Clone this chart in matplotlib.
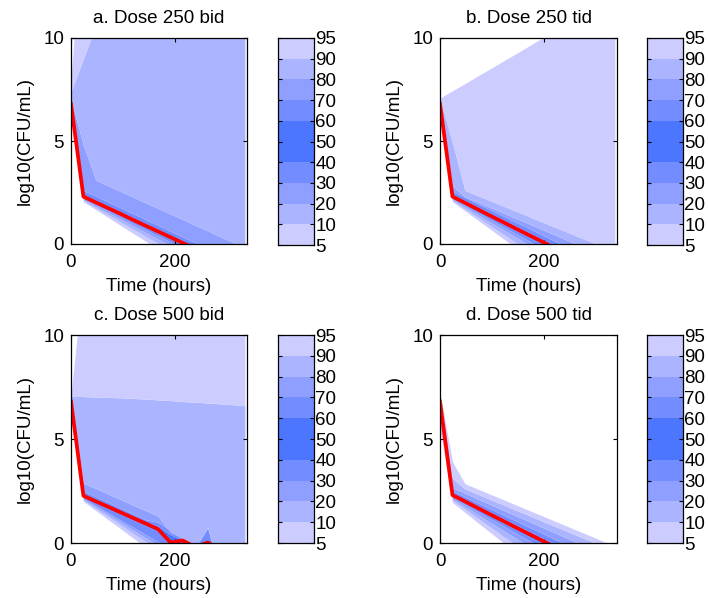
# percentile fan charts of log10(CFU/mL) vs time for four dose regimens
import numpy as np
import matplotlib
matplotlib.use('Agg')
import matplotlib.pyplot as plt

plt.rcParams['font.family'] = ['Liberation Sans', 'DejaVu Sans']
plt.rcParams['font.size'] = 13.5

# time grid (hours)
hours = [0, 24, 48, 72, 96, 120, 144, 168, 192, 216, 240, 264, 288, 312, 336]

# percentile levels shown in the colour key
levels = [5, 10, 20, 30, 40, 50, 60, 70, 80, 90, 95]

# rows: 5th,10th,20th,30th,40th,50th,60th,70th,80th,90th,95th percentile
dose250_bid = [
    [6.0, 2.05, 1.67, 1.29, 0.90, 0.52, 0.14, -0.24, -0.62, -1.0, -1.38, -1.76, -2.15, -2.53, -2.91],
    [6.2, 2.1, 1.75, 1.41, 1.06, 0.72, 0.37, 0.03, -0.32, -0.66, -1.01, -1.35, -1.7, -2.04, -2.39],
    [6.4, 2.15, 1.83, 1.51, 1.20, 0.88, 0.56, 0.24, -0.08, -0.40, -0.72, -1.04, -1.35, -1.67, -1.99],
    [6.55, 2.2, 1.9, 1.6, 1.3, 1.0, 0.7, 0.4, 0.1, -0.2, -0.5, -0.8, -1.1, -1.4, -1.7],
    [6.7, 2.25, 1.96, 1.67, 1.38, 1.10, 0.81, 0.52, 0.24, -0.05, -0.34, -0.62, -0.91, -1.20, -1.48],
    [6.8, 2.3, 2.02, 1.74, 1.46, 1.17, 0.89, 0.61, 0.33, 0.05, -0.23, -0.52, -0.80, -1.08, -1.36],
    [6.9, 2.4, 2.12, 1.84, 1.55, 1.27, 0.99, 0.71, 0.42, 0.14, -0.14, -0.42, -0.71, -0.99, -1.27],
    [6.95, 2.6, 2.32, 2.04, 1.76, 1.47, 1.19, 0.91, 0.62, 0.34, 0.06, -0.22, -0.51, -0.79, -1.07],
    [7.0, 4.8, 3.1, 2.83, 2.55, 2.28, 2.0, 1.73, 1.46, 1.19, 0.91, 0.64, 0.36, 0.09, -0.18],
    [7.4, 9.0, 10.6, 12, 13, 14, 15, 15, 15, 15, 15, 15, 15, 15, 15],
    [8.0, 16, 18, 20, 20, 20, 20, 20, 20, 20, 20, 20, 20, 20, 20],
]

dose250_tid = [
    [6.0, 2.05, 1.61, 1.17, 0.73, 0.29, -0.15, -0.59, -1.03, -1.47, -1.91, -2.35, -2.79, -3.23, -3.67],
    [6.2, 2.1, 1.7, 1.3, 0.9, 0.5, 0.1, -0.3, -0.7, -1.1, -1.5, -1.9, -2.3, -2.7, -3.1],
    [6.4, 2.15, 1.79, 1.43, 1.07, 0.72, 0.36, 0.0, -0.36, -0.72, -1.07, -1.43, -1.79, -2.15, -2.51],
    [6.55, 2.2, 1.87, 1.53, 1.20, 0.86, 0.53, 0.19, -0.14, -0.47, -0.81, -1.14, -1.48, -1.81, -2.14],
    [6.7, 2.25, 1.93, 1.62, 1.30, 0.99, 0.67, 0.35, 0.04, -0.28, -0.59, -0.91, -1.23, -1.54, -1.86],
    [6.8, 2.3, 2.0, 1.69, 1.38, 1.08, 0.77, 0.47, 0.17, -0.14, -0.44, -0.75, -1.05, -1.36, -1.66],
    [6.9, 2.4, 2.1, 1.8, 1.49, 1.19, 0.89, 0.59, 0.28, -0.02, -0.32, -0.62, -0.92, -1.23, -1.53],
    [6.95, 2.55, 2.26, 1.96, 1.67, 1.37, 1.08, 0.79, 0.49, 0.20, -0.10, -0.39, -0.69, -0.98, -1.27],
    [7.0, 2.8, 2.3, 2.04, 1.78, 1.52, 1.26, 1.01, 0.75, 0.49, 0.23, -0.03, -0.28, -0.54, -0.8],
    [7.05, 4.9, 2.6, 2.35, 2.11, 1.86, 1.61, 1.37, 1.11, 0.87, 0.62, 0.37, 0.12, -0.12, -0.37],
    [7.08, 7.44, 7.79, 8.15, 8.50, 8.86, 9.21, 9.57, 9.93, 10.28, 10.64, 11.0, 11.35, 11.7, 12.06],
]

dose500_bid = [
    [6.0, 2.0, 1.56, 1.12, 0.68, 0.24, -0.20, -0.64, -1.08, -1.52, -1.96, -2.40, -2.84, -3.28, -3.72],
    [6.2, 2.05, 1.65, 1.26, 0.86, 0.46, 0.07, -0.33, -0.73, -1.12, -1.52, -1.92, -2.31, -2.71, -3.11],
    [6.4, 2.1, 1.73, 1.36, 0.99, 0.62, 0.25, -0.12, -0.49, -0.86, -1.23, -1.60, -1.98, -2.35, -2.72],
    [6.55, 2.15, 1.80, 1.45, 1.10, 0.76, 0.41, 0.06, -0.29, -0.64, -0.99, -1.33, -1.68, -2.03, -2.38],
    [6.7, 2.2, 1.93, 1.66, 1.38, 1.11, 0.84, 0.55, -0.1, -0.1, -0.4, -0.2, -0.5, -0.8, -1.1],
    [6.8, 2.27, 2.0, 1.74, 1.47, 1.2, 0.94, 0.67, 0.03, 0.12, -0.2, 0.02, -0.3, -0.6, -0.9],
    [6.9, 2.35, 2.08, 1.82, 1.55, 1.28, 1.02, 0.8, 0.4, 0.15, -0.3, 0.05, -0.4, -0.7, -1.0],
    [6.95, 2.5, 2.22, 1.95, 1.67, 1.40, 1.12, 1.0, 0.6, 0.2, -0.24, 0.72, -1.44, -1.5, -1.5],
    [7.0, 2.88, 2.62, 2.35, 2.09, 1.82, 1.56, 1.3, 0.5, 0.22, -0.2, 0.76, -1.4, -1.5, -1.5],
    [7.05, 7.04, 7.02, 7.0, 6.98, 6.95, 6.92, 6.88, 6.85, 6.8, 6.77, 6.73, 6.69, 6.65, 6.6],
    [7.1, 12.9, 15, 15, 15, 15, 15, 15, 15, 15, 15, 15, 15, 15, 15],
]

dose500_tid = [
    [5.5, 1.95, 1.47, 0.99, 0.52, 0.04, -0.44, -0.92, -1.39, -1.87, -2.35, -2.83, -3.31, -3.78, -4.26],
    [5.8, 2.05, 1.63, 1.2, 0.78, 0.35, -0.07, -0.49, -0.92, -1.34, -1.77, -2.19, -2.61, -3.04, -3.46],
    [6.1, 2.12, 1.75, 1.38, 1.0, 0.63, 0.25, -0.12, -0.49, -0.87, -1.24, -1.62, -1.99, -2.37, -2.74],
    [6.4, 2.2, 1.86, 1.52, 1.18, 0.85, 0.51, 0.17, -0.17, -0.51, -0.85, -1.18, -1.52, -1.86, -2.2],
    [6.7, 2.25, 1.93, 1.62, 1.30, 0.99, 0.67, 0.35, 0.04, -0.28, -0.59, -0.91, -1.23, -1.54, -1.86],
    [6.8, 2.3, 2.0, 1.69, 1.38, 1.08, 0.77, 0.47, 0.17, -0.14, -0.44, -0.75, -1.05, -1.36, -1.66],
    [6.9, 2.38, 2.08, 1.79, 1.49, 1.19, 0.89, 0.6, 0.3, 0.0, -0.3, -0.6, -0.89, -1.19, -1.49],
    [7.0, 2.5, 2.22, 1.93, 1.65, 1.37, 1.08, 0.8, 0.52, 0.23, -0.05, -0.33, -0.62, -0.9, -1.18],
    [7.05, 2.65, 2.39, 2.12, 1.86, 1.59, 1.33, 1.07, 0.80, 0.54, 0.27, 0.01, -0.25, -0.52, -0.78],
    [7.1, 3.1, 2.6, 2.35, 2.1, 1.85, 1.6, 1.35, 1.1, 0.85, 0.6, 0.35, 0.1, -0.15, -0.40],
    [7.2, 3.9, 2.85, 2.6, 2.35, 2.1, 1.85, 1.6, 1.35, 1.10, 0.85, 0.60, 0.35, 0.1, -0.15],
]

titles = ['a. Dose 250 bid', 'b. Dose 250 tid', 'c. Dose 500 bid', 'd. Dose 500 tid']
panels = [dose250_bid, dose250_tid, dose500_bid, dose500_tid]

# band colours, from the 5-10 band up to the 90-95 band
c1, c2, c3, c4, c5 = '#ccccff', '#aab4ff', '#8f9fff', '#738cff', '#4d76ff'
band_colors = [c1, c2, c3, c4, c5, c5, c4, c3, c2, c1]

W, H = 708, 598
fig = plt.figure(figsize=(W / 100, H / 100), dpi=100)

# pixel boxes (left, top, right, bottom) for plots and keys
plot_boxes = [(71, 38, 247, 244), (440, 38, 617, 244), (71, 335, 247, 543), (440, 335, 617, 543)]
key_boxes = [(278, 38, 314, 245), (647, 38, 683, 245), (278, 335, 314, 543), (647, 335, 683, 543)]

def px_axes(box):
    l, t, r, b = box
    return fig.add_axes([l / W, 1 - b / H, (r - l) / W, (b - t) / H])

for k in range(4):
    ax = px_axes(plot_boxes[k])
    rows = np.array(panels[k])
    for i in range(10):
        ax.fill_between(hours, rows[i], rows[i + 1], color=band_colors[i], linewidth=0)
    ax.plot(hours, rows[5], color='red', linewidth=2.7)
    ax.set_xlim(0, 340)
    ax.set_ylim(0, 10)
    ax.set_xticks([0, 200])
    ax.set_yticks([0, 5, 10])
    ax.tick_params(direction='in', top=True, right=True, length=3, width=0.8)
    ax.tick_params(axis='x', pad=7)
    ax.tick_params(axis='y', pad=5)
    for s in ax.spines.values():
        s.set_linewidth(0.9)
    ax.set_title(titles[k], fontsize=13.5, pad=11)
    ax.set_xlabel('Time (hours)', labelpad=5)
    ax.set_ylabel('log10(CFU/mL)', labelpad=7)

    # colour key
    cax = px_axes(key_boxes[k])
    cax.bar(np.zeros(10), np.ones(10), width=1, bottom=np.arange(10), align='edge',
            color=band_colors, linewidth=0)
    cax.set_xlim(0, 1)
    cax.set_ylim(0, 10)
    cax.set_xticks([])
    cax.set_yticks(range(11))
    cax.set_yticklabels([str(v) for v in levels])
    cax.yaxis.tick_right()
    cax.tick_params(axis='y', direction='in', left=True, right=True, length=3, width=0.8, pad=1)
    for s in cax.spines.values():
        s.set_linewidth(0.9)

fig.savefig('out.png', dpi=100)
